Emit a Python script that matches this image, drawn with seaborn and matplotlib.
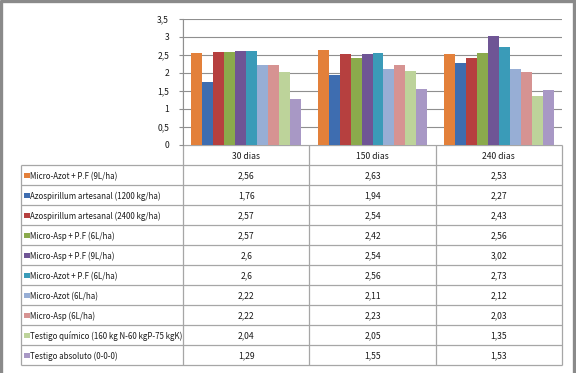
import matplotlib
matplotlib.use("Agg")
import matplotlib.pyplot as plt
import seaborn as sns
import pandas as pd
from matplotlib.patches import Rectangle

# ---- data ----
days = ["30 dias", "150 dias", "240 dias"]
treatments = [
    "Micro-Azot + P.F (9L/ha)",
    "Azospirillum artesanal (1200 kg/ha)",
    "Azospirillum artesanal (2400 kg/ha)",
    "Micro-Asp + P.F (6L/ha)",
    "Micro-Asp + P.F (9L/ha)",
    "Micro-Azot + P.F (6L/ha)",
    "Micro-Azot (6L/ha)",
    "Micro-Asp (6L/ha)",
    "Testigo químico (160 kg N-60 kgP-75 kgK)",
    "Testigo absoluto (0-0-0)",
]
v_micro_azot_pf9 = [2.56, 2.63, 2.53]
v_azos_1200 = [1.76, 1.94, 2.27]
v_azos_2400 = [2.57, 2.54, 2.43]
v_micro_asp_pf6 = [2.57, 2.42, 2.56]
v_micro_asp_pf9 = [2.60, 2.54, 3.02]
v_micro_azot_pf6 = [2.60, 2.56, 2.73]
v_micro_azot6 = [2.22, 2.11, 2.12]
v_micro_asp6 = [2.22, 2.23, 2.03]
v_testigo_quim = [2.04, 2.05, 1.35]
v_testigo_abs = [1.29, 1.55, 1.53]
series = [v_micro_azot_pf9, v_azos_1200, v_azos_2400, v_micro_asp_pf6,
          v_micro_asp_pf9, v_micro_azot_pf6, v_micro_azot6, v_micro_asp6,
          v_testigo_quim, v_testigo_abs]
yticks = [0, 0.5, 1, 1.5, 2, 2.5, 3, 3.5]

colors = ["#E3803A", "#3E6DB0", "#B6403F", "#8BAA4C", "#6F5595",
          "#3A9BB8", "#97AED5", "#D69392", "#BDD39A", "#A898C5"]

rows = []
for t, vals in zip(treatments, series):
    for d, v in zip(days, vals):
        rows.append({"day": d, "treatment": t, "value": v})
df = pd.DataFrame(rows)

def fmt(v):
    s = ("%.2f" % v).rstrip("0").rstrip(".")
    return s.replace(".", ",")

W, H = 576, 373
fig = plt.figure(figsize=(W / 100, H / 100), dpi=100)
FONT = ["Noto Sans CJK JP", "DejaVu Sans"]
FS = 5.7
DY = 1.3  # baseline correction for this font's metrics
TXT = "#1a1a1a"
GRID = "#8f8f8f"
TBL = "#a6a6a6"

# ---- bar chart ----
x0, x1, y_top, y_bot = 183, 562, 19, 145
ax = fig.add_axes([x0 / W, 1 - y_bot / H, (x1 - x0) / W, (y_bot - y_top) / H])
sns.barplot(data=df, x="day", y="value", hue="treatment", hue_order=treatments,
            order=days, palette=colors, saturation=1, width=0.87, gap=0,
            errorbar=None, legend=False, ax=ax, zorder=3)
for p in ax.patches:
    p.set_edgecolor("none")
ax.set_ylim(0, 3.5)
ax.set_xlim(-0.5, 2.5)
ax.set_yticks(yticks)
ax.set_yticklabels([fmt(t) for t in yticks], fontsize=6.2, family=FONT, color=TXT)
ax.set_xticks([])
ax.set_xlabel("")
ax.set_ylabel("")
ax.grid(axis="y", color=GRID, linewidth=0.8, zorder=0)
ax.set_axisbelow(True)
for s in ["top", "right", "bottom"]:
    ax.spines[s].set_visible(False)
ax.spines["left"].set_color(GRID)
ax.spines["left"].set_linewidth(0.8)
ax.tick_params(axis="y", length=3, width=0.8, color=GRID, pad=7)

# ---- data table (drawn in pixel coordinates) ----
tx = fig.add_axes([0, 0, 1, 1], zorder=-1)
tx.set_xlim(0, W)
tx.set_ylim(H, 0)
tx.axis("off")

lx, row_h, hdr_top, first = 21, 20, 145, 165
n = len(treatments)
bottom = first + n * row_h
col_edges = [183, 309.3, 435.7, 562]
tx.hlines(hdr_top, 183, 562, color=TBL, lw=0.9)
for i in range(n + 1):
    tx.hlines(first + i * row_h, lx, 562, color=TBL, lw=0.9)
tx.vlines(lx, first, bottom, color=TBL, lw=0.9)
tx.vlines(183, y_top, bottom, color=TBL, lw=0.9)
for cx in col_edges[1:]:
    tx.vlines(cx, hdr_top, bottom, color=TBL, lw=0.9)

centers = [(col_edges[i] + col_edges[i + 1]) / 2 for i in range(3)]
for c, d in zip(centers, days):
    tx.text(c, (hdr_top + first) / 2 + DY, d, ha="center", va="center",
            fontsize=6.2, family=FONT, color=TXT)
for i, (t, vals, col) in enumerate(zip(treatments, series, colors)):
    yc = first + row_h * i + row_h / 2
    tx.add_patch(Rectangle((24, yc - 2.5), 5.5, 5.5, facecolor=col, edgecolor="none"))
    tx.text(30.5, yc + DY, t, ha="left", va="center", fontsize=FS, family=FONT, color=TXT)
    for c, v in zip(centers, vals):
        tx.text(c, yc + DY, fmt(v), ha="center", va="center", fontsize=6.2,
                family=FONT, color=TXT)

# outer frame
FR = "#8a8a8a"
tx.vlines(1.2, 0, H, color=FR, lw=2.4)
tx.vlines(W - 2.5, 0, H, color=FR, lw=2.4)
tx.hlines(1.2, 0, W, color=FR, lw=2.4)

fig.savefig("out.png", dpi=100, facecolor="white")
